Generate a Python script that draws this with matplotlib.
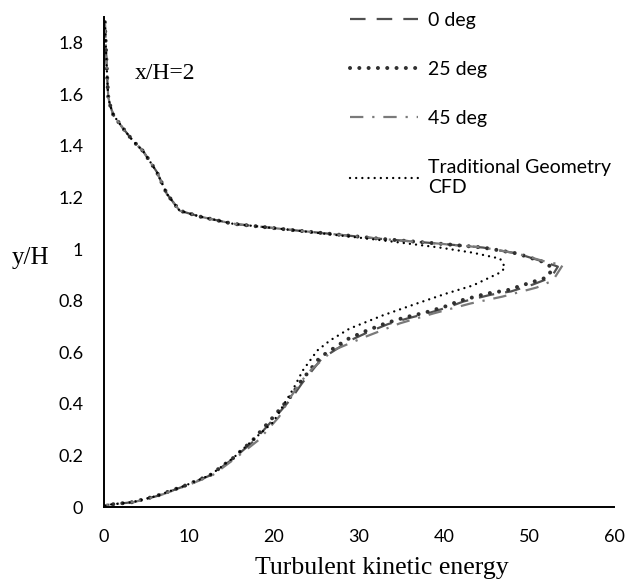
import matplotlib
matplotlib.use("Agg")
import matplotlib.pyplot as plt

# --- data (TKE vs y/H at x/H=2) ---
y_common = [1.88, 1.80, 1.72, 1.65, 1.59, 1.56, 1.52, 1.47, 1.42, 1.38, 1.30,
            1.214, 1.149, 1.126, 1.098, 1.072, 1.04, 1.021, 1.006, 0.983, 0.948]

deg0_x = [0.1, 0.2, 0.3, 0.4, 0.5, 0.7, 1.1, 2.2, 3.4, 4.6, 6.2, 7.4, 8.9, 11.3,
          15.2, 22.7, 32.5, 39.5, 44.6, 48.6, 52.0, 53.4, 52.6, 50.4, 47.9, 45.5,
          42.3, 40.5, 38.2, 35.8, 33.4, 31.0, 28.9, 25.6, 23.3, 22.1, 20.3, 17.7,
          15.3, 12.6, 9.8, 6.3, 3.5, 0.3, 0.0]
deg0_y = y_common + [0.932, 0.89, 0.862, 0.836, 0.823, 0.797, 0.775, 0.752, 0.732,
                     0.709, 0.677, 0.645, 0.575, 0.48, 0.423, 0.354, 0.258, 0.19,
                     0.124, 0.085, 0.043, 0.019, 0.008, 0.0]

deg25_x = [0.1, 0.2, 0.3, 0.4, 0.5, 0.7, 1.1, 2.2, 3.4, 4.6, 6.2, 7.4, 8.9, 11.3,
           15.2, 22.7, 32.5, 39.5, 44.6, 48.6, 51.9, 52.8, 52.1, 49.8, 47.4, 45.1,
           41.9, 40.1, 37.8, 35.4, 33.1, 30.7, 28.6, 25.4, 23.1, 21.9, 20.1, 17.5,
           15.2, 12.5, 9.7, 6.2, 3.4, 0.3, 0.0]
deg25_y = y_common + [0.925, 0.89, 0.866, 0.84, 0.828, 0.80, 0.777, 0.754, 0.735,
                      0.712, 0.681, 0.65, 0.58, 0.484, 0.426, 0.356, 0.259, 0.19,
                      0.124, 0.085, 0.043, 0.019, 0.008, 0.0]

deg45_x = [0.1, 0.2, 0.3, 0.4, 0.5, 0.7, 1.1, 2.2, 3.4, 4.6, 6.2, 7.4, 8.9, 11.3,
           15.2, 22.7, 32.5, 39.5, 44.6, 48.6, 52.3, 54.0, 52.8, 50.9, 46.9, 43.1,
           38.7, 34.8, 30.9, 26.9, 23.9, 22.0, 20.6, 18.2, 15.5, 12.8, 9.9, 6.4,
           3.5, 0.3, 0.0]
deg45_y = y_common + [0.94, 0.878, 0.851, 0.816, 0.789, 0.75, 0.712, 0.662, 0.607,
                      0.518, 0.429, 0.35, 0.26, 0.19, 0.124, 0.085, 0.043, 0.019,
                      0.008, 0.0]

trad_x = [0.1, 0.2, 0.3, 0.4, 0.5, 0.7, 1.1, 2.2, 3.4, 4.6, 6.2, 7.4, 8.9, 11.3,
          15.2, 22.7, 32.5, 39.5, 43.4, 46.6, 47.2, 46.6, 43.4, 40.3, 36.8, 32.8,
          28.9, 26.6, 25.1, 23.4, 22.3, 21.2, 19.9, 17.5, 15.2, 12.5, 9.7, 6.2,
          3.4, 0.3, 0.0]
trad_y = [1.88, 1.80, 1.72, 1.65, 1.59, 1.56, 1.52, 1.47, 1.42, 1.38, 1.30,
          1.214, 1.149, 1.126, 1.098, 1.072, 1.035, 1.006, 0.986, 0.963, 0.928,
          0.909, 0.859, 0.828, 0.789, 0.743, 0.692, 0.646, 0.607, 0.53, 0.46,
          0.40, 0.329, 0.259, 0.19, 0.124, 0.085, 0.043, 0.019, 0.008, 0.0]

labels = ["0 deg", "25 deg", "45 deg", "Traditional Geometry\nCFD"]

fig = plt.figure(figsize=(6.27, 5.83), dpi=100)
ax = fig.add_axes([104 / 627, 76 / 583, 510 / 627, 490 / 583])

ax.plot(deg0_x, deg0_y, color="#505050", lw=1.6, linestyle=(0, (7, 5)),
        label=labels[0])
ax.plot(deg25_x, deg25_y, color="#303030", lw=2.9, linestyle=(0, (0.01, 2.3)),
        dash_capstyle="round", label=labels[1])
ax.plot(deg45_x, deg45_y, color="#7a7a7a", lw=1.6, linestyle=(0, (6, 4, 1, 4)),
        label=labels[2])
ax.plot(trad_x, trad_y, color="black", lw=1.7, linestyle=(0, (0.01, 2.6)),
        dash_capstyle="round", label=labels[3])

ax.set_xlim(0, 60)
ax.set_ylim(0, 1.9)
ax.set_xticks([0, 10, 20, 30, 40, 50, 60])
ax.set_yticks([0, 0.2, 0.4, 0.6, 0.8, 1.0, 1.2, 1.4, 1.6, 1.8])
ax.set_yticklabels(["0", "0.2", "0.4", "0.6", "0.8", "1", "1.2", "1.4", "1.6", "1.8"])
ax.set_xticklabels(["0", "10", "20", "30", "40", "50", "60"])
for lab in ax.get_xticklabels() + ax.get_yticklabels():
    lab.set_family("Lato")
    lab.set_fontsize(13)
ax.tick_params(axis="y", length=0, pad=15)
ax.tick_params(axis="x", length=0, pad=16)

for s in ["top", "right"]:
    ax.spines[s].set_visible(False)
ax.spines["left"].set_linewidth(1.4)
ax.spines["bottom"].set_linewidth(1.4)

ax.set_xlabel("Turbulent kinetic energy", family="Liberation Serif", fontsize=18.5)
ax.xaxis.set_label_coords((382 - 104) / 510, -(568 - 507) / 490)
ax.set_ylabel("y/H", family="Liberation Serif", fontsize=18, rotation=0)
ax.yaxis.set_label_coords(-(104 - 31) / 510, (507 - 258) / 490)
ax.yaxis.label.set_verticalalignment("center")
ax.xaxis.label.set_verticalalignment("center")

ax.text(3.6, 1.68, "x/H=2", family="Liberation Serif", fontsize=17,
        va="center", ha="left")

leg = ax.legend(loc="upper left", bbox_to_anchor=(350 / 627, 1 - 12 / 583),
                bbox_transform=fig.transFigure, frameon=False,
                prop={"family": "Lato", "size": 14}, handlelength=3.5,
                handletextpad=0.5, labelspacing=1.65, borderpad=0,
                borderaxespad=0)

fig.savefig("out.png", dpi=100)
